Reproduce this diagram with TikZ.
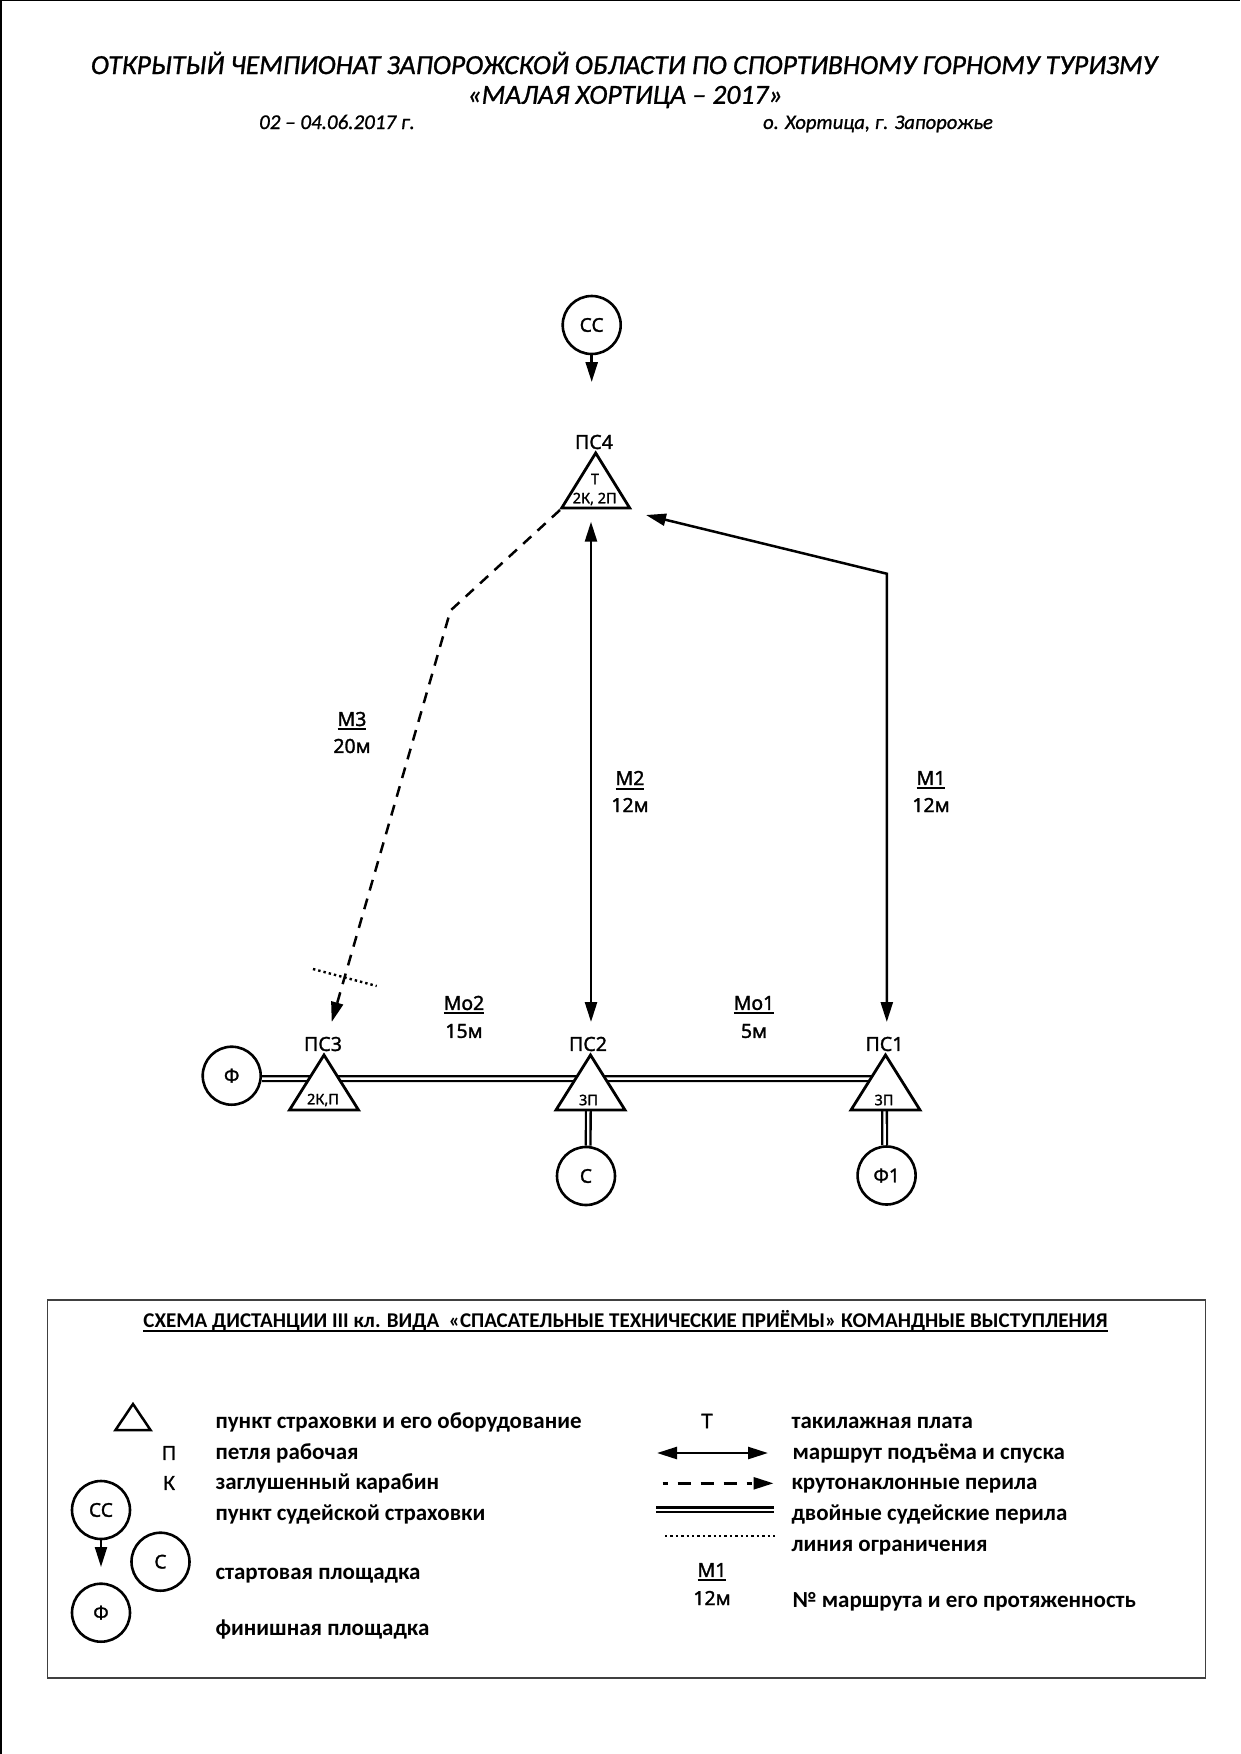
\documentclass[tikz,border=0pt]{standalone}
\usepackage{fontspec}
\setmainfont{Carlito}
\newfontfamily\labelfont[FakeBold=1.5]{Noto Sans}
\newfontfamily\headfont[ItalicFeatures={FakeBold=1}]{Carlito}
\usepackage{pgf, tikz}
\usetikzlibrary{positioning}
\usetikzlibrary{arrows.meta, shapes.geometric, backgrounds}
\newcommand{\ulabel}[1]{\leavevmode\setbox0=\hbox{#1}\copy0\llap{\smash{\rule[-4.5pt]{\wd0}{2pt}}}}
\tikzset{
  rhead/.tip = {Triangle[length=20pt,width=12pt]},
  pad/.style = {draw, circle, fill=white, line width=2.6pt, minimum size=58pt, inner sep=0pt, font=\labelfont\fontsize{19}{19}\selectfont},
  belay/.style = {draw, fill=white, isosceles triangle, isosceles triangle stretches, shape border rotate=90, line width=2.8pt, inner sep=0pt, outer sep=0pt, minimum width=69pt, minimum height=55pt, anchor=apex},
  tag/.style = {font=\labelfont\fontsize{19.5}{19.5}\selectfont},
  gear/.style = {font=\labelfont\fontsize{14.5}{15}\selectfont},
  item/.style = {font=\bfseries\fontsize{23}{24}\selectfont, anchor=west, text height=16pt, text depth=5pt, inner ysep=0pt},
  heading/.style = {font=\headfont\itshape\fontsize{27.6}{28}\selectfont},
  route/.style = {line width=2.5pt, -rhead},
  twoway/.style = {line width=2.5pt, rhead-rhead},
  steep/.style = {route, dash pattern=on 11pt off 8.5pt},
  rails/.style = {line width=2.3pt, double distance=2.4pt},
  limit/.style = {line width=2.4pt, dash pattern=on 2.4pt off 3pt}
}
\begin{document}
\begin{tikzpicture}[x=1pt, y=-1pt]
\useasboundingbox (0,0) rectangle (1240,1754);
\draw[line width=1.5pt] (1,1754) -- (1,0.7) -- (1240,0.7);
\node[heading] (title1) at (624,63) {ОТКРЫТЫЙ ЧЕМПИОНАТ ЗАПОРОЖСКОЙ ОБЛАСТИ ПО СПОРТИВНОМУ ГОРНОМУ ТУРИЗМУ};
\node[heading] (title2) at (625,97) {«МАЛАЯ ХОРТИЦА – 2017»};
\node[heading, font=\headfont\itshape\fontsize{21}{22}\selectfont] (date) at (337,122) {02 – 04.06.2017 г.};
\node[heading, font=\headfont\itshape\fontsize{20.6}{22}\selectfont] (place) at (878,124) {о. Хортица, г. Запорожье};
% stations
\node[pad] (cc) at (591.7,325) {СС};
\coordinate (ccend) at (591.7,382);
\node[belay, minimum width=68pt, minimum height=55pt] (ps4) at (595.7,453) {};
\node[tag] (ps4name) at (594,442) {ПС4};
\node[gear] (ps4t) at (595,479) {Т};
\node[gear] (ps4kit) at (594.7,499) {2К, 2П};
\node[belay] (ps3) at (324,1055) {};
\node[tag] (ps3name) at (323,1044) {ПС3};
\node[gear] (ps3kit) at (323,1100) {2К,П};
\node[belay] (ps2) at (590.5,1055) {};
\node[tag] (ps2name) at (588,1044) {ПС2};
\node[gear] (ps2kit) at (588.5,1100) {3П};
\node[belay] (ps1) at (885.5,1055) {};
\node[tag] (ps1name) at (884.5,1044) {ПС1};
\node[gear] (ps1kit) at (884,1100) {3П};
\node[pad] (f) at (231.7,1075.7) {Ф};
\node[pad] (s) at (586,1176) {С};
\node[pad] (f1) at (886.6,1175.5) {Ф1};
% ropes
\coordinate (m1bend) at (886.8,573.7);
\coordinate (m1end) at (646,515);
\coordinate (m1low) at (886.8,1022);
\coordinate (m2top) at (591,521.7);
\coordinate (m2low) at (591,1022);
\coordinate (m3top) at (560,510);
\coordinate (m3bend) at (450.5,610.5);
\coordinate (m3low) at (331.7,1022);
\coordinate (lim1) at (313,969);
\coordinate (lim2) at (376.7,986);
\coordinate (rail3) at (324,1078.6);
\coordinate (rail2) at (590.5,1078.6);
\coordinate (rail1) at (885.5,1078.6);
\draw[route] (cc) -- (ccend);
\draw[twoway] (m1low) -- (m1bend) -- (m1end);
\draw[twoway] (m2top) -- (m2low);
\draw[steep] (m3top) -- (m3bend) -- (m3low);
\draw[limit] (lim1) -- (lim2);
\begin{scope}[on background layer]
\draw[rails] ([yshift=-2.9pt]f.east) -- (rail3) -- (rail2) -- (rail1);
\draw[rails] ([xshift=-2.2pt]ps2.south) -- ([xshift=2.2pt]s.north);
\draw[rails] ([xshift=-1pt]ps1.south) -- ([xshift=-2pt]f1.north);
\end{scope}
% route labels
\node[tag] (m3) at (352,719) {\ulabel{М3}};
\node[tag] (m3len) at (352,746) {20м};
\node[tag] (m2) at (630,778) {\ulabel{М2}};
\node[tag] (m2len) at (630,805) {12м};
\node[tag] (m1) at (931,778) {\ulabel{М1}};
\node[tag] (m1len) at (931,805) {12м};
\node[tag] (mo2) at (464,1003) {\ulabel{Мо2}};
\node[tag] (mo2len) at (464,1031) {15м};
\node[tag] (mo1) at (754,1003) {\ulabel{Мо1}};
\node[tag] (mo1len) at (754,1031) {5м};
% legend
\node[draw=black!75, line width=1.5pt, minimum width=1158pt, minimum height=378pt, inner sep=0pt] (box) at (626.7,1489) {};
\node[font=\bfseries\fontsize{21}{22}\selectfont] (head) at (625.5,1321) {\ulabel{СХЕМА ДИСТАНЦИИ III кл. ВИДА~ «СПАСАТЕЛЬНЫЕ ТЕХНИЧЕСКИЕ ПРИЁМЫ» КОМАНДНЫЕ ВЫСТУПЛЕНИЯ}};
\node[belay, minimum width=35pt, minimum height=26pt, line width=2.5pt] (keypost) at (133,1404) {};
\node[tag] (keyp) at (169,1453) {П};
\node[tag] (keyk) at (169,1483) {К};
\node[pad] (keycc) at (101,1510) {СС};
\node[pad] (keys) at (160.5,1561.7) {С};
\node[pad] (keyf) at (101,1612.7) {Ф};
\coordinate (keyccend) at (101,1567);
\draw[route, line width=2.2pt] (keycc) -- (keyccend);
\node[item] (t1) at (212,1423) {пункт страховки и его оборудование};
\node[item] (t2) at (212,1454) {петля рабочая};
\node[item] (t3) at (212,1484) {заглушенный карабин};
\node[item] (t4) at (212,1515) {пункт судейской страховки};
\node[item] (t5) at (212,1574) {стартовая площадка};
\node[item] (t6) at (212,1630) {финишная площадка};
\node[tag, font=\labelfont\fontsize{20}{20}\selectfont] (keyt) at (707,1421) {Т};
\coordinate (k1a) at (657,1453);
\coordinate (k1b) at (768,1453);
\coordinate (k2a) at (662.5,1483.3);
\coordinate (k2b) at (773.5,1483.3);
\coordinate (k3a) at (656,1509.7);
\coordinate (k3b) at (773.5,1509.7);
\coordinate (k4a) at (665,1535.7);
\coordinate (k4b) at (775,1535.7);
\draw[twoway] (k1a) -- (k1b);
\draw[route, dash pattern=on 5pt off 10pt on 13pt off 10pt on 13pt off 10pt on 13pt off 10pt] (k2a) -- (k2b);
\draw[rails] (k3a) -- (k3b);
\draw[limit] (k4a) -- (k4b);
\node[tag] (keym) at (712,1570) {\ulabel{М1}};
\node[tag] (keylen) at (712,1598) {12м};
\node[item] (u1) at (788,1423) {такилажная плата};
\node[item] (u2) at (789,1454) {маршрут подъёма и спуска};
\node[item] (u3) at (788,1484) {крутонаклонные перила};
\node[item] (u4) at (788,1515) {двойные судейские перила};
\node[item] (u5) at (788,1546) {линия ограничения};
\node[item] (u6) at (789,1602) {№ маршрута и его протяженность};
\end{tikzpicture}
\end{document}
